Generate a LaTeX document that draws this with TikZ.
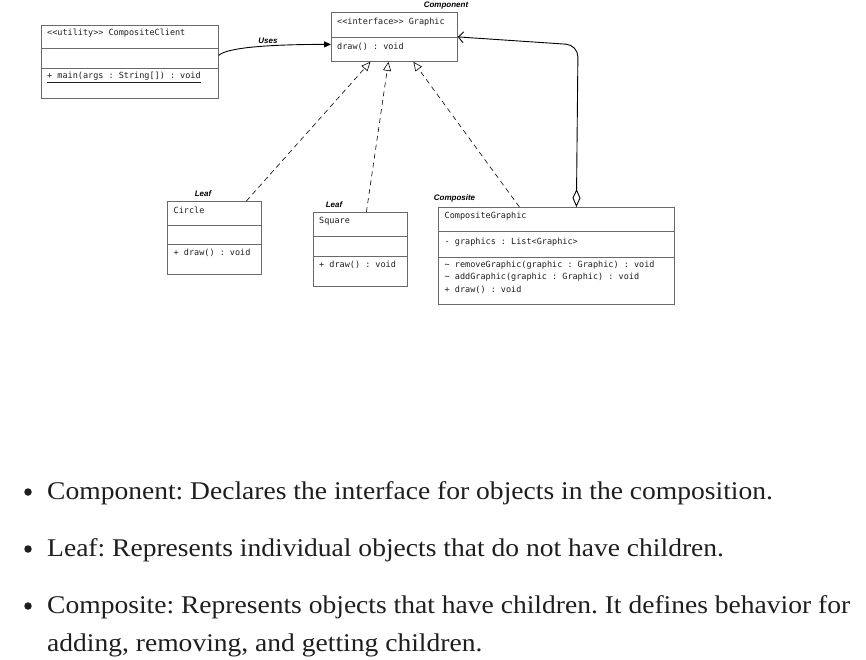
\documentclass[tikz,border=0pt]{standalone}
\usepackage{fontspec}
\setmainfont{Liberation Serif}[FakeStretch=1.08]
\setsansfont{Liberation Sans}
\setmonofont{DejaVu Sans Mono}
\usetikzlibrary{arrows.meta, positioning}

\definecolor{boxgray}{HTML}{6A6A6A}
\definecolor{inkgray}{HTML}{1E1E1E}

\begin{document}
\frenchspacing
\begin{tikzpicture}[x=1pt, y=-1pt,
 class box/.style={draw=boxgray, line width=0.8pt, anchor=north west, inner sep=0pt},
 member/.style={anchor=west, inner sep=0pt, text=inkgray,
   font=\ttfamily\fontsize{8.5}{10}\selectfont},
 role/.style={inner sep=0pt, font=\sffamily\bfseries\itshape\fontsize{8}{9}\selectfont},
 realize/.style={draw, line width=0.6pt, dash pattern=on 5pt off 4pt,
   -{Triangle[open, length=9pt, width=8pt]}},
 bullet dot/.style={circle, fill=inkgray, inner sep=0pt, minimum size=7.5pt},
 bullet text/.style={anchor=base west, inner sep=0pt, text=inkgray,
   font=\fontsize{25.5}{30}\selectfont}]
  \useasboundingbox (0,0) rectangle (866,660);

  % class boxes
  \node[class box, minimum width=177pt, minimum height=73pt] (client) at (41,25) {};
  \node[class box, minimum width=126pt, minimum height=49pt] (graphic) at (331,12) {};
  \node[class box, minimum width=94pt, minimum height=73pt] (circle) at (167,201) {};
  \node[class box, minimum width=94pt, minimum height=74pt] (square) at (313,212) {};
  \node[class box, minimum width=236pt, minimum height=97pt] (compo) at (438,207) {};

  % compartments
  \foreach \xa/\xb/\y in {41/218/48, 41/218/68, 331/457/37, 167/261/225, 167/261/244,
    313/407/236, 313/407/256, 438/674/231, 438/674/257} {
   \draw[boxgray, line width=0.8pt] (\xa,\y) -- (\xb,\y);}

  \node[member] (client name) at (47,33.5) {<{}<utility>{}> CompositeClient};
  \node[member] (client op) at (47,77.5) {\underline{+ main(args : String[]) : void}};
  \node[member] (graphic name) at (337,22) {<{}<interface>{}> Graphic};
  \node[member] (graphic op) at (337,46.5) {draw() : void};
  \node[member] (circle name) at (173.5,210) {Circle};
  \node[member] (circle op) at (173.5,253) {+ draw() : void};
  \node[member] (square name) at (319,221.5) {Square};
  \node[member] (square op) at (319,264.5) {+ draw() : void};
  \node[member] (compo name) at (444.5,216.5) {CompositeGraphic};
  \node[member] (compo field) at (444.5,242) {- graphics : List<Graphic>};
  \node[member] (compo op1) at (444.5,265.5) {\textasciitilde{} removeGraphic(graphic : Graphic) : void};
  \node[member] (compo op2) at (444.5,277.5) {\textasciitilde{} addGraphic(graphic : Graphic) : void};
  \node[member] (compo op3) at (444.5,289.5) {+ draw() : void};

  % roles
  \node[role] (component) at (446,6) {Component};
  \node[role] (leaf1) at (203,194) {Leaf};
  \node[role] (leaf2) at (334,205) {Leaf};
  \node[role] (composite) at (454.5,198.5) {Composite};

  % connectors
  \draw[line width=0.9pt, -{Triangle[length=7pt, width=6pt]}] ([yshift=6.5pt]client.east)
   .. controls +(8,-8) and +(-60,0) .. ([yshift=-7.5pt]graphic.west)
   node[role, pos=0.6, above=1.5pt] (uses) {Uses};
  \draw[realize] ([xshift=32pt]circle.north) -- ([xshift=-24pt]graphic.south);
  \draw[realize] ([xshift=6pt]square.north) -- ([xshift=-6pt]graphic.south);
  \draw[realize] ([xshift=-37pt]compo.north) -- ([xshift=19pt]graphic.south);

  \coordinate (bend) at (578,45);
  \draw[line width=0.9pt, rounded corners=12pt,
   {Diamond[open, length=18pt, width=8pt]}-{Straight Barb[length=5pt, width=11pt]}]
   ([xshift=20pt]compo.north) -- (bend) -- (graphic.east);

  % bullet list
  \foreach \y/\n in {492/1, 549/2, 606/3} {
   \node[bullet dot] (dot\n) at (28,\y) {};}
  \node[bullet text] (item1) at (47,499) {Component: Declares the interface for objects in the composition.};
  \node[bullet text] (item2) at (47,556.5) {Leaf: Represents individual objects that do not have children.};
  \node[bullet text] (item3) at (47,613) {Composite: Represents objects that have children. It defines behavior for};
  \node[bullet text] (item3b) at (47,651.5) {adding, removing, and getting children.};
\end{tikzpicture}
\end{document}
